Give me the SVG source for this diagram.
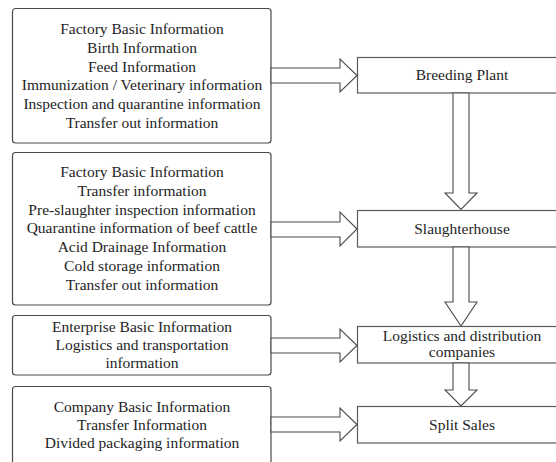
<svg xmlns="http://www.w3.org/2000/svg" width="556" height="462" viewBox="0 0 556 462">
  <style>
    .info { fill: #ffffff; stroke: #4a4a4a; stroke-width: 1.2; }
    .stage { fill: #ffffff; stroke: #5a5a5a; stroke-width: 1.2; }
    .arrow { fill: #ffffff; stroke: #4a4a4a; stroke-width: 1.1; stroke-linejoin: miter; }
    .t { fill: #1e1e1e; text-anchor: middle; }
  </style>
  <rect width="556" height="462" fill="#ffffff"/>

  <g font-family="Liberation Serif, Times New Roman, serif" font-size="15.5">
  <!-- information boxes -->
  <g id="info-breeding">
    <rect class="info" x="12.5" y="8.5" width="258.5" height="134.5" rx="3"/>
    <text class="t" x="142" y="34">Factory Basic Information</text>
    <text class="t" x="142" y="52.8">Birth Information</text>
    <text class="t" x="142" y="71.6">Feed Information</text>
    <text class="t" x="142" y="90.4">Immunization / Veterinary information</text>
    <text class="t" x="142" y="109.2">Inspection and quarantine information</text>
    <text class="t" x="142" y="128">Transfer out information</text>
  </g>

  <g id="info-slaughter">
    <rect class="info" x="12.5" y="152.5" width="258.5" height="152.5" rx="3"/>
    <text class="t" x="142" y="177">Factory Basic Information</text>
    <text class="t" x="142" y="195.8">Transfer information</text>
    <text class="t" x="142" y="214.6">Pre-slaughter inspection information</text>
    <text class="t" x="142" y="233.4">Quarantine information of beef cattle</text>
    <text class="t" x="142" y="252.2">Acid Drainage Information</text>
    <text class="t" x="142" y="271">Cold storage information</text>
    <text class="t" x="142" y="289.8">Transfer out information</text>
  </g>

  <g id="info-logistics">
    <rect class="info" x="12.5" y="315.5" width="258.5" height="59.5" rx="3"/>
    <text class="t" x="142" y="332">Enterprise Basic Information</text>
    <text class="t" x="142" y="350">Logistics and transportation</text>
    <text class="t" x="142" y="368">information</text>
  </g>

  <g id="info-sales">
    <rect class="info" x="12.5" y="386.5" width="258.5" height="90" rx="3"/>
    <text class="t" x="142" y="412">Company Basic Information</text>
    <text class="t" x="142" y="430">Transfer Information</text>
    <text class="t" x="142" y="448">Divided packaging information</text>
  </g>

  <!-- stage boxes -->
  <g id="breeding-plant">
    <rect class="stage" x="357.5" y="57.5" width="210" height="35.5"/>
    <text class="t" x="462" y="80">Breeding Plant</text>
  </g>

  <g id="slaughterhouse">
    <rect class="stage" x="357.5" y="210.5" width="210" height="36.5"/>
    <text class="t" x="462" y="234">Slaughterhouse</text>
  </g>

  <g id="logistics-companies">
    <rect class="stage" x="357.5" y="326.5" width="210" height="36.5"/>
    <text class="t" x="462" y="341">Logistics and distribution</text>
    <text class="t" x="462" y="357">companies</text>
  </g>

  <g id="split-sales">
    <rect class="stage" x="357.5" y="406.5" width="210" height="36.5"/>
    <text class="t" x="462" y="430">Split Sales</text>
  </g>
  </g>

  <!-- block arrows -->
  <g id="connectors">
    <!-- info boxes into stages -->
    <polygon class="arrow" points="271,68 340,68 340,59 357,75.5 340,92 340,83 271,83"/>
    <polygon class="arrow" points="271,222 340,222 340,212 357,229 340,246 340,237 271,237"/>
    <polygon class="arrow" points="271,338 340,338 340,329 357,345.5 340,362 340,353 271,353"/>
    <polygon class="arrow" points="271,417 340,417 340,408 357,424.5 340,441 340,432 271,432"/>
    <!-- stage to stage -->
    <polygon class="arrow" points="453,93 469,93 469,193 477,193 461,209.5 445,193 453,193"/>
    <polygon class="arrow" points="453,247 469,247 469,302 477,302 461,326 445,302 453,302"/>
    <polygon class="arrow" points="453,363 469,363 469,390 477,390 461,406 445,390 453,390"/>
  </g>
</svg>
